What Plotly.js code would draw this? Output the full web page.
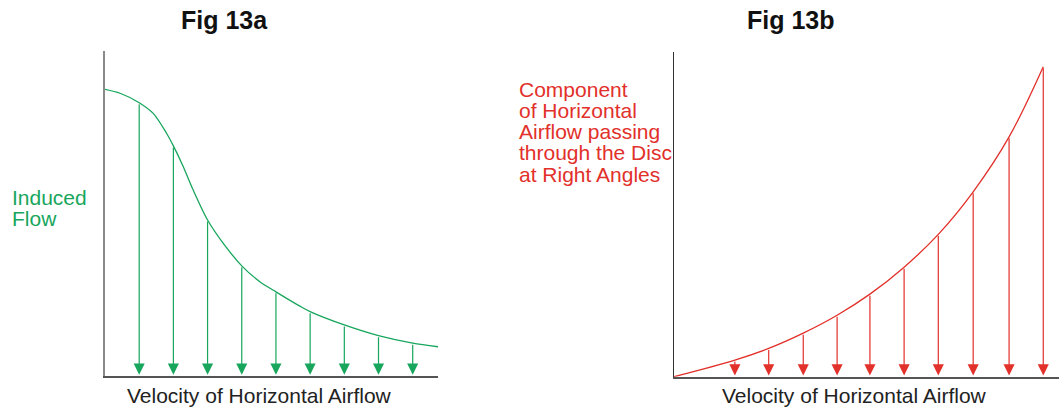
<!DOCTYPE html>
<html>
<head>
<meta charset="utf-8">
<script src="https://cdn.plot.ly/plotly-3.0.1.min.js"></script>
<style>
  html, body { margin: 0; padding: 0; background: #ffffff; }
  #chart { width: 1059px; height: 410px; }
</style>
</head>
<body>
<div id="chart"></div>
<script>
// ---------- Data ----------
// Fig 13a: induced flow vs velocity of horizontal airflow
var inducedX = [0, 0.44, 1, 1.41, 1.8, 2, 2.29, 2.58, 3, 3.46, 4, 4.53, 5, 5.7, 6, 7, 8, 9, 9.74];
var inducedY = [88.2, 87.0, 84.1, 80.8, 74.7, 70.8, 64.4, 57.2, 48.0, 40.8, 33.9, 29.0, 25.9, 21.5, 19.8, 15.7, 12.4, 10.1, 9.0];
var inducedArrowX = [1, 2, 3, 4, 5, 6, 7, 8, 9];
var inducedArrowTop = [84.1, 70.8, 48.0, 33.9, 25.9, 19.8, 15.7, 12.4, 10.1];

// Fig 13b: component of horizontal airflow through the disc
var componentX = [0, 1.78, 2.77, 3.78, 4.77, 5.73, 6.73, 7.73, 8.75, 9.80, 10.80];
var componentY = [0, 5.1, 8.7, 13.4, 18.9, 25.4, 33.7, 43.8, 56.9, 73.8, 95.4];
var componentArrowX = [1.78, 2.77, 3.78, 4.77, 5.73, 6.73, 7.73, 8.75, 9.80, 10.80];
var componentArrowTop = [5.1, 8.7, 13.4, 18.9, 25.4, 33.7, 43.8, 56.9, 73.8, 95.4];

// Text
var titleA = 'Fig 13a';
var titleB = 'Fig 13b';
var xTitle = 'Velocity of Horizontal Airflow';
var yTitleA = ['Induced', 'Flow'];
var yTitleB = ['Component', 'of Horizontal', 'Airflow passing', 'through the Disc', 'at Right Angles'];

// ---------- Styling ----------
var W = 1059, H = 410;
var GREEN = '#17a65c';
var RED = '#e2302a';
var FONT = 'Liberation Sans, Arial, Helvetica, sans-serif';
function px(x) { return x / W; }
function py(y) { return 1 - y / H; }

var traces = [
  { x: inducedX, y: inducedY, xaxis: 'x', yaxis: 'y', mode: 'lines',
    line: { color: GREEN, width: 1.3, shape: 'spline', smoothing: 0.8 }, hoverinfo: 'skip', showlegend: false },
  { x: componentX, y: componentY, xaxis: 'x2', yaxis: 'y2', mode: 'lines',
    line: { color: RED, width: 1.3, shape: 'spline', smoothing: 1 }, hoverinfo: 'skip', showlegend: false }
];

var annotations = [];
function addArrows(xs, tops, xr, yr, color) {
  for (var i = 0; i < xs.length; i++) {
    annotations.push({
      x: xs[i], y: 0.4, ax: xs[i], ay: tops[i],
      xref: xr, yref: yr, axref: xr, ayref: yr,
      text: '', showarrow: true, arrowhead: 2, arrowsize: 1.85, arrowwidth: 1.2,
      arrowcolor: color, standoff: 0
    });
  }
}
addArrows(inducedArrowX, inducedArrowTop, 'x', 'y', GREEN);
addArrows(componentArrowX, componentArrowTop, 'x2', 'y2', RED);

// Titles
annotations.push({ text: '<b>' + titleA + '</b>', x: px(224.5), y: py(20), xref: 'paper', yref: 'paper',
  xanchor: 'center', yanchor: 'middle', showarrow: false, font: { family: FONT, size: 25, color: '#111111' } });
annotations.push({ text: '<b>' + titleB + '</b>', x: px(791), y: py(20), xref: 'paper', yref: 'paper',
  xanchor: 'center', yanchor: 'middle', showarrow: false, font: { family: FONT, size: 25, color: '#111111' } });

// X titles
annotations.push({ text: xTitle, x: px(259), y: py(395), xref: 'paper', yref: 'paper',
  xanchor: 'center', yanchor: 'middle', showarrow: false, font: { family: FONT, size: 21, color: '#222222' } });
annotations.push({ text: xTitle, x: px(854), y: py(395), xref: 'paper', yref: 'paper',
  xanchor: 'center', yanchor: 'middle', showarrow: false, font: { family: FONT, size: 21, color: '#222222' } });

// Y titles (one annotation per line for tight line spacing)
var aCenters = [197, 218];
for (var i = 0; i < yTitleA.length; i++) {
  annotations.push({ text: yTitleA[i], x: px(10), y: py(aCenters[i]), xref: 'paper', yref: 'paper',
    xanchor: 'left', yanchor: 'middle', showarrow: false, font: { family: FONT, size: 21, color: GREEN } });
}
var bCenters = [89.5, 110.5, 131.5, 152.5, 174.5];
for (var j = 0; j < yTitleB.length; j++) {
  annotations.push({ text: yTitleB[j], x: px(517), y: py(bCenters[j]), xref: 'paper', yref: 'paper',
    xanchor: 'left', yanchor: 'middle', showarrow: false, font: { family: FONT, size: 21, color: RED } });
}

function axisStyle(extra) {
  var base = { showgrid: false, zeroline: false, showticklabels: false, ticks: '', showline: true, fixedrange: true };
  for (var k in extra) base[k] = extra[k];
  return base;
}

var layout = {
  width: W, height: H,
  margin: { l: 0, r: 0, t: 0, b: 0, pad: 0 },
  paper_bgcolor: '#ffffff', plot_bgcolor: 'rgba(0,0,0,0)',
  showlegend: false,
  font: { family: FONT },
  xaxis: axisStyle({ domain: [px(105), px(438)], range: [0, 9.74], anchor: 'y', linecolor: '#555555', linewidth: 1.5 }),
  yaxis: axisStyle({ domain: [py(376), py(51)], range: [0, 100], anchor: 'x', linecolor: '#8a8a8a', linewidth: 2 }),
  xaxis2: axisStyle({ domain: [px(674), 1], range: [0, 11.26], anchor: 'y2', linecolor: '#555555', linewidth: 2 }),
  yaxis2: axisStyle({ domain: [py(376.7), py(51.7)], range: [0, 100], anchor: 'x2', linecolor: '#333333', linewidth: 1.5 }),
  annotations: annotations
};

Plotly.newPlot('chart', traces, layout, { displayModeBar: false, staticPlot: true });
</script>
</body>
</html>
